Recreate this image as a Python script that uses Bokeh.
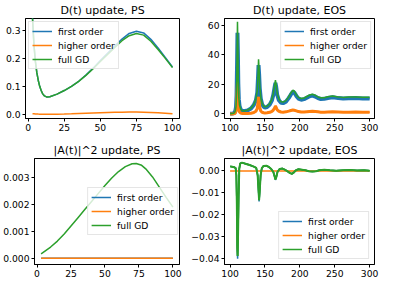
from bokeh.plotting import figure
from bokeh.layouts import column, row
from bokeh.models import Range1d, FixedTicker
from bokeh.embed import file_html
from bokeh.resources import INLINE

BLUE = "#1f77b4"
ORANGE = "#ff7f0e"
GREEN = "#2ca02c"
FONT = "DejaVu Sans"

# ---------------- data ----------------
titles = ["D(t) update, PS", "D(t) update, EOS", "|A(t)|^2 update, PS", "|A(t)|^2 update, EOS"]
series_names = ["first order", "higher order", "full GD"]

# Panel 1: D(t) update, PS
ps_t = [3, 4, 5, 6, 7, 8, 9, 10, 11, 12, 13, 15, 20, 25, 30, 35, 40, 45, 50, 55, 60, 65, 70, 75, 80, 85, 90, 95, 100]
ps_d_full = [0.345, 0.25, 0.19, 0.15, 0.122, 0.101, 0.086, 0.075, 0.068, 0.065, 0.063, 0.064, 0.073, 0.086, 0.101,
             0.119, 0.140, 0.164, 0.190, 0.215, 0.240, 0.264, 0.282, 0.290, 0.284, 0.262, 0.233, 0.201, 0.168]
ps_d_first = [0.345, 0.25, 0.19, 0.15, 0.122, 0.101, 0.086, 0.075, 0.068, 0.065, 0.063, 0.064, 0.073, 0.086, 0.101,
              0.119, 0.141, 0.166, 0.193, 0.219, 0.245, 0.270, 0.290, 0.298, 0.292, 0.269, 0.238, 0.204, 0.170]
ps_d_higher = [0.003, 0.0027, 0.0023, 0.002, 0.0017, 0.0015, 0.0013, 0.0012, 0.0011, 0.001, 0.001, 0.0011, 0.0015,
               0.0022, 0.003, 0.0039, 0.0048, 0.0057, 0.0066, 0.0074, 0.0081, 0.0086, 0.0089, 0.0089, 0.0085,
               0.0077, 0.0064, 0.0048, 0.0031]

# Panel 2: D(t) update, EOS
eos_t = [100, 103, 105, 106.5, 107.5, 108.5, 109.3, 110, 110.6, 111.2, 111.8, 112.5, 113.5, 115, 117, 120, 125, 130,
         134, 137, 139, 140, 140.8, 141.6, 142.5, 144, 146, 148, 150, 153, 157, 160, 162, 164, 165, 166, 167.5, 170,
         173, 176, 180, 184, 187, 190, 192, 195, 198, 202, 206, 210, 214, 218, 222, 226, 230, 235, 240, 247, 255,
         262, 270, 280, 290, 300]
eos_d_full = [0.1, 0.2, 0.4, 1.0, 2.2, 5, 14, 38, 62.4, 45, 22, 11, 6, 3.5, 2.3, 2.0, 2.6, 4.0,
              6.5, 10, 16, 26, 37, 30, 19, 11, 7, 5.5, 4.8, 5.2, 7, 10, 14, 20, 22.8, 20, 14, 10,
              8.2, 8, 9, 11.5, 14, 16, 15.5, 13, 11.2, 10.4, 10.8, 11.8, 12.8, 13.3, 12.6, 11.5, 10.9, 11, 11.6, 12.1,
              11.5, 11.2, 11.4, 11.5, 11.3, 11.3]
eos_d_first = [0.1, 0.2, 0.4, 1.0, 2.1, 4.6, 12.5, 33, 55, 40, 20, 10, 5.5, 3.2, 2.1, 1.8, 2.3, 3.6,
               6, 9.2, 14.5, 24, 33, 27, 17.5, 10.2, 6.4, 5, 4.3, 4.7, 6.4, 9.2, 13, 18.5, 21, 18.5, 13, 9.2,
               7.5, 7.3, 8.3, 10.7, 13, 15, 14.5, 12.2, 10.4, 9.6, 10, 11, 12, 12.4, 11.8, 10.7, 10.1, 10.2, 10.8,
               11.3, 10.7, 10.4, 10.6, 10.7, 10.5, 10.5]
eos_d_higher = [0.0, 0.0, 0.05, 0.2, 0.6, 1.8, 5, 14, 21.8, 15, 7, 3, 1.3, 0.6, 0.35, 0.3, 0.35, 0.5,
                0.9, 1.8, 3.8, 7.5, 11.5, 8.5, 4.5, 2, 1.1, 0.8, 0.7, 0.8, 1.1, 1.7, 2.6, 4.2, 5.4, 4.4, 2.8, 1.8,
                1.3, 1.2, 1.4, 1.9, 2.3, 2.6, 2.5, 2.1, 1.6, 1.3, 1.3, 1.5, 1.7, 1.8, 1.6, 1.4, 1.2, 1.2, 1.3,
                1.4, 1.3, 1.2, 1.2, 1.3, 1.2, 1.2]

# Panel 3: |A(t)|^2 update, PS
ps_a_t = [3, 10, 15, 20, 25, 30, 35, 40, 45, 50, 55, 60, 65, 70, 73, 77, 80, 85, 90, 95, 100]
ps_a_full = [0.00017, 0.00042, 0.00064, 0.0009, 0.0012, 0.0015, 0.0018, 0.0021, 0.0024, 0.0027, 0.00298, 0.00322,
             0.0034, 0.00351, 0.00352, 0.00345, 0.00332, 0.00302, 0.00264, 0.00226, 0.0019]
ps_a_small_t = [3, 25, 50, 75, 100]
ps_a_first = [0.000004, 0.000005, 0.000006, 0.000005, 0.000004]
ps_a_higher = [0.000002, 0.000003, 0.000004, 0.000003, 0.000002]

# Panel 4: |A(t)|^2 update, EOS
eos_a_t = [100, 103, 106, 108, 109, 109.7, 110.3, 110.8, 111.4, 112.2, 113.2, 114.5, 117, 122, 128, 134, 137.5,
           139.5, 140.8, 141.6, 142.5, 143.8, 145.5, 148, 152, 156, 159, 162, 164, 165, 166.2, 168, 171, 175, 179,
           183, 186, 188.5, 191, 194, 198, 203, 208, 213, 218, 223, 228, 235, 243, 252, 262, 272, 282, 292, 300]
eos_a_full = [0.0020, 0.0018, 0.0016, 0.0012, -0.002, -0.015, -0.035, -0.039, -0.03, -0.012, 0.001, 0.0033, 0.0037,
              0.0032, 0.0026, 0.0019, 0.0013, -0.002, -0.009, -0.0135, -0.009, -0.002, 0.0012, 0.0022, 0.0023,
              0.0016, 0.0008, -0.0006, -0.0028, -0.004, -0.003, -0.0005, 0.0008, 0.001, 0.0004, -0.0004, -0.0011,
              -0.0014, -0.0009, 0.0001, 0.0007, 0.0005, 0.0002, -0.0002, -0.0004, -0.0002, 0.0002, 0.0004, 0.0002,
              0.0, 0.0002, 0.0003, 0.0001, 0.0002, 0.0]
eos_a_first = [0.0020, 0.0018, 0.0016, 0.0012, -0.002, -0.015, -0.036, -0.0403, -0.031, -0.012, 0.001, 0.0033,
               0.0037, 0.0032, 0.0026, 0.0019, 0.0013, -0.002, -0.0095, -0.014, -0.0095, -0.002, 0.0012, 0.0022,
               0.0023, 0.0016, 0.0008, -0.0006, -0.0028, -0.0042, -0.003, -0.0005, 0.0008, 0.001, 0.0004, -0.0004,
               -0.0011, -0.0014, -0.0009, 0.0001, 0.0007, 0.0005, 0.0002, -0.0002, -0.0004, -0.0002, 0.0002, 0.0004,
               0.0002, 0.0, 0.0002, 0.0003, 0.0001, 0.0002, 0.0]
eos_a_higher_t = [100, 150, 200, 250, 300]
eos_a_higher = [-0.00015, -0.00015, -0.00015, -0.00015, -0.00015]

# ticks
ps_xticks = [0, 25, 50, 75, 100]
eos_xticks = [100, 150, 200, 250, 300]
p1_yticks = [0.0, 0.1, 0.2, 0.3]
p1_ylabels = ["0.0", "0.1", "0.2", "0.3"]
p2_yticks = [0, 20, 40, 60]
p2_ylabels = ["0", "20", "40", "60"]
p3_yticks = [0.0, 0.001, 0.002, 0.003]
p3_ylabels = ["0.000", "0.001", "0.002", "0.003"]
p4_yticks = [-0.04, -0.03, -0.02, -0.01, 0.0]
p4_ylabels = ["\u22120.04", "\u22120.03", "\u22120.02", "\u22120.01", "0.00"]


def make_fig(title, w, h, xr, yr, bl, br, bt, bb):
    p = figure(width=w, height=h, x_range=Range1d(*xr), y_range=Range1d(*yr),
               output_backend="svg", toolbar_location=None, title=title,
               min_border_left=bl, min_border_right=br, min_border_top=bt, min_border_bottom=bb)
    p.title.text_font = FONT
    p.title.text_font_size = "11px"
    p.title.text_font_style = "normal"
    p.title.align = "center"
    p.title.standoff = 3
    p.title.text_color = "black"
    p.xgrid.visible = False
    p.ygrid.visible = False
    p.outline_line_color = "black"
    p.outline_line_width = 1
    p.background_fill_color = "white"
    p.border_fill_color = "white"
    for ax in (p.xaxis[0], p.yaxis[0]):
        ax.axis_line_color = "black"
        ax.major_tick_out = 3
        ax.major_tick_in = 0
        ax.major_tick_line_color = "black"
        ax.minor_tick_line_color = None
        ax.major_label_text_font = FONT
        ax.major_label_text_font_size = "9.2px"
        ax.major_label_standoff = 2
        ax.major_label_text_color = "black"
    return p


def set_ticks(p, xt, yt, ylab):
    p.xaxis[0].ticker = FixedTicker(ticks=xt)
    p.xaxis[0].major_label_overrides = {t: str(t) for t in xt}
    p.yaxis[0].ticker = FixedTicker(ticks=yt)
    p.yaxis[0].major_label_overrides = {t: l for t, l in zip(yt, ylab)}


def style_legend(p, loc, margin):
    lg = p.legend[0]
    lg.location = loc
    lg.label_text_font = FONT
    lg.label_text_font_size = "9.2px"
    lg.label_text_color = "black"
    lg.label_height = 12
    lg.glyph_height = 12
    lg.glyph_width = 20
    lg.spacing = 2
    lg.padding = 3
    lg.margin = margin
    lg.label_standoff = 6
    lg.border_line_color = "#cccccc"
    lg.border_line_width = 1
    lg.background_fill_color = "white"
    lg.background_fill_alpha = 0.8


LW = 1.5

# panel 1
p1 = make_fig(titles[0], 187, 140, (-1.85, 104.85), (-0.014, 0.3435), 25, 8, 15, 22)
p1.line(ps_t, ps_d_first, color=BLUE, line_width=LW, legend_label=series_names[0])
p1.line(ps_t, ps_d_higher, color=ORANGE, line_width=LW, legend_label=series_names[1])
p1.line(ps_t, ps_d_full, color=GREEN, line_width=LW, legend_label=series_names[2])
set_ticks(p1, ps_xticks, p1_yticks, p1_ylabels)
style_legend(p1, "top_left", 3)

# panel 2 (fast oscillations drawn as thick bands, thin line on top carries the legend)
p2 = make_fig(titles[1], 196, 140, (92, 307), (-3.1, 64.6), 37, 9, 15, 22)
p2.line(eos_t, eos_d_first, color=BLUE, line_width=4)
p2.line(eos_t, eos_d_first, color=BLUE, line_width=LW, legend_label=series_names[0])
p2.line(eos_t, eos_d_higher, color=ORANGE, line_width=3)
p2.line(eos_t, eos_d_higher, color=ORANGE, line_width=LW, legend_label=series_names[1])
p2.line(eos_t, eos_d_full, color=GREEN, line_width=LW, legend_label=series_names[2])
set_ticks(p2, eos_xticks, p2_yticks, p2_ylabels)
style_legend(p2, "top_right", 3)

# panel 3
p3 = make_fig(titles[2], 187, 142, (-1.85, 104.85), (-0.000228, 0.003703), 25, 8, 15, 18)
p3.line(ps_a_small_t, ps_a_first, color=BLUE, line_width=LW, legend_label=series_names[0])
p3.line(ps_a_small_t, ps_a_higher, color=ORANGE, line_width=LW, legend_label=series_names[1])
p3.line(ps_a_t, ps_a_full, color=GREEN, line_width=LW, legend_label=series_names[2])
set_ticks(p3, ps_xticks, p3_yticks, p3_ylabels)
style_legend(p3, "center_right", 1)

# panel 4
p4 = make_fig(titles[3], 196, 142, (92, 307), (-0.0429, 0.0056), 37, 9, 15, 18)
p4.line(eos_a_t, eos_a_first, color=BLUE, line_width=LW, legend_label=series_names[0])
p4.line(eos_a_higher_t, eos_a_higher, color=ORANGE, line_width=LW, legend_label=series_names[1])
p4.line(eos_a_t, eos_a_full, color=GREEN, line_width=2)
p4.line(eos_a_t, eos_a_full, color=GREEN, line_width=LW, legend_label=series_names[2])
set_ticks(p4, eos_xticks, p4_yticks, p4_ylabels)
style_legend(p4, "bottom_right", 5)

layout = column(row(p1, p2), row(p3, p4))

open("out.html", "w").write(file_html(layout, INLINE))
